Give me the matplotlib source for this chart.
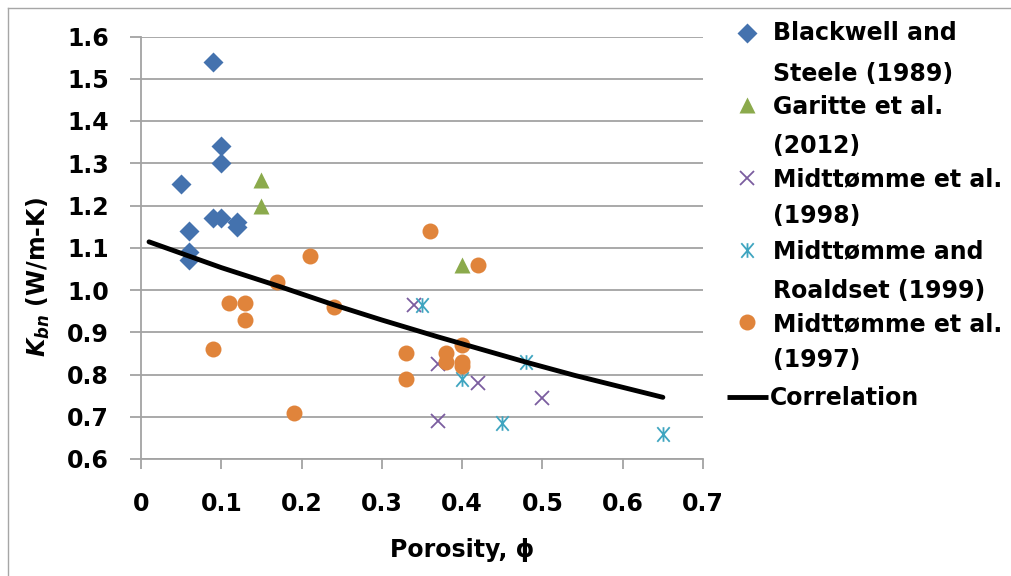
import numpy as np
import matplotlib
matplotlib.use("Agg")
import matplotlib.pyplot as plt
from matplotlib.path import Path

plt.rcParams["font.family"] = ["DejaVu Sans"]
plt.rcParams["mathtext.fontset"] = "custom"
plt.rcParams["mathtext.it"] = "DejaVu Sans:italic:bold"
plt.rcParams["mathtext.rm"] = "DejaVu Sans:bold"

# --- data ---------------------------------------------------------------
blackwell_phi = [0.09, 0.10, 0.10, 0.05, 0.09, 0.10, 0.12, 0.12, 0.06, 0.06, 0.06]
blackwell_k   = [1.54, 1.34, 1.30, 1.25, 1.17, 1.17, 1.16, 1.15, 1.14, 1.09, 1.07]

garitte_phi = [0.15, 0.15, 0.40]
garitte_k   = [1.26, 1.20, 1.06]

midt98_phi = [0.34, 0.37, 0.42, 0.50, 0.37]
midt98_k   = [0.965, 0.825, 0.78, 0.745, 0.69]

midt99_phi = [0.35, 0.40, 0.48, 0.45, 0.65]
midt99_k   = [0.965, 0.79, 0.83, 0.685, 0.66]

midt97_phi = [0.21, 0.17, 0.11, 0.13, 0.13, 0.24, 0.09, 0.19, 0.33, 0.33,
              0.36, 0.42, 0.38, 0.38, 0.40, 0.40, 0.40]
midt97_k   = [1.08, 1.02, 0.97, 0.97, 0.93, 0.96, 0.86, 0.71, 0.85, 0.79,
              1.14, 1.06, 0.85, 0.83, 0.87, 0.83, 0.82]

corr_phi = [0.01, 0.10, 0.17, 0.24, 0.30, 0.37, 0.48, 0.54, 0.65]
corr_k   = [1.114, 1.053, 1.010, 0.965, 0.929, 0.889, 0.829, 0.798, 0.746]

x_ticks = [0, 0.1, 0.2, 0.3, 0.4, 0.5, 0.6, 0.7]
x_tick_labels = ["0", "0.1", "0.2", "0.3", "0.4", "0.5", "0.6", "0.7"]
y_ticks = [0.6, 0.7, 0.8, 0.9, 1.0, 1.1, 1.2, 1.3, 1.4, 1.5, 1.6]
y_tick_labels = ["0.6", "0.7", "0.8", "0.9", "1.0", "1.1", "1.2", "1.3", "1.4", "1.5", "1.6"]

legend_labels = [
    ["Blackwell and", "Steele (1989)"],
    ["Garitte et al.", "(2012)"],
    ["Midttømme et al.", "(1998)"],
    ["Midttømme and", "Roaldset (1999)"],
    ["Midttømme et al.", "(1997)"],
    ["Correlation"],
]

# --- styling ------------------------------------------------------------
C_BLUE = "#4472AE"
C_GREEN = "#8BAA4C"
C_PURPLE = "#7B5D9F"
C_CYAN = "#3FA5C0"
C_ORANGE = "#E0843B"
GRID = "#A3A3A3"
FS = 17

star = Path([(-0.85, -1), (0.85, 1), (-0.85, 1), (0.85, -1), (0, -1), (0, 1)],
            [Path.MOVETO, Path.LINETO, Path.MOVETO, Path.LINETO, Path.MOVETO, Path.LINETO])

styles = [
    dict(marker="D", ms=10, color=C_BLUE, mec="none", ls="none"),
    dict(marker="^", ms=11, color=C_GREEN, mec="none", ls="none"),
    dict(marker="x", ms=10, color=C_PURPLE, mew=1.3, ls="none"),
    dict(marker=star, ms=10.5, color=C_CYAN, mew=1.3, ls="none"),
    dict(marker="o", ms=11.5, color=C_ORANGE, mec="none", ls="none"),
    dict(color="black", lw=3.5, solid_capstyle="round"),
]

W, H = 1011, 576
fig = plt.figure(figsize=(W / 100, H / 100), dpi=100)
ax = fig.add_axes([141 / W, 1 - 459 / H, (703 - 141) / W, (459 - 36.5) / H])

series = [(blackwell_phi, blackwell_k), (garitte_phi, garitte_k), (midt98_phi, midt98_k),
          (midt99_phi, midt99_k), (midt97_phi, midt97_k), (corr_phi, corr_k)]
for (xs, ys), st in zip(series, styles):
    ax.plot(xs, ys, zorder=3, **st)

ax.set_xlim(0, 0.7)
ax.set_ylim(0.6, 1.6)
ax.set_xticks(x_ticks)
ax.set_xticklabels(x_tick_labels)
ax.set_yticks(y_ticks)
ax.set_yticklabels(y_tick_labels)
ax.yaxis.grid(True, color=GRID, lw=1.3)
ax.set_axisbelow(True)
for s in ("top", "right"):
    ax.spines[s].set_visible(False)
for s in ("left", "bottom"):
    ax.spines[s].set_color(GRID)
    ax.spines[s].set_linewidth(1.3)
ax.tick_params(axis="y", direction="out", length=8, width=1.3, color=GRID, pad=15,
               labelsize=FS)
ax.tick_params(axis="x", direction="out", length=7, width=1.3, color=GRID, pad=17,
               labelsize=FS)
for lab in ax.get_xticklabels() + ax.get_yticklabels():
    lab.set_fontweight("bold")

ax.set_xlabel("Porosity, ϕ", fontsize=FS, fontweight="bold")
ax.xaxis.set_label_coords((462 - 141) / 562, (459 - 557) / 422.5)
ax.xaxis.label.set_verticalalignment("baseline")
ax.set_ylabel(r"$K_{bn}$ (W/m-K)", fontsize=FS, fontweight="bold")
ax.yaxis.set_label_coords((38 - 141) / 562, (459 - 277) / 422.5)
ax.yaxis.label.set_verticalalignment("center")

# overlay in pixel units for the frame and the legend
ov = fig.add_axes([0, 0, 1, 1], zorder=5)
ov.set_xlim(0, W)
ov.set_ylim(H, 0)
ov.axis("off")
ov.patch.set_visible(False)
ov.plot([7.5, 7.5], [H, 7.5], color="#A6A6A6", lw=1.0)
ov.plot([7.5, W], [7.5, 7.5], color="#A6A6A6", lw=1.0)

line_centers = [[31, 72], [105, 144], [178, 214], [250, 289], [323, 358], [396]]
marker_y = [33, 105, 178, 250, 322]
for i, (lines, ys) in enumerate(zip(legend_labels, line_centers)):
    tx = 773 if i < 5 else 770
    for txt, yc in zip(lines, ys):
        ov.text(tx, yc + 8.7, txt, fontsize=FS, fontweight="bold", ha="left",
                va="baseline")
    if i < 5:
        ov.plot([747], [marker_y[i]], **styles[i])
    else:
        ov.plot([727, 768], [397, 397], **{**styles[i], "solid_capstyle": "butt"})

fig.savefig("out.png", dpi=100)
